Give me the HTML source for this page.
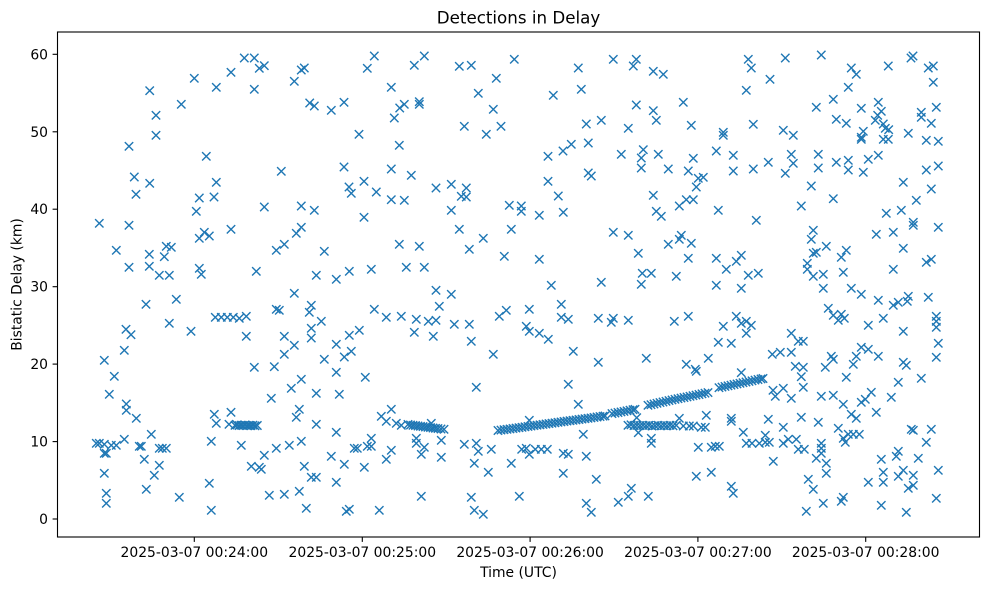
<!DOCTYPE html>
<html>
<head>
<meta charset="utf-8">
<style>
html,body{margin:0;padding:0;background:#fff;}
svg{display:block;}
text{font-family:"DejaVu Sans","Liberation Sans",sans-serif;fill:#000;}
</style>
</head>
<body>
<svg width="989" height="590" viewBox="0 0 989 590" xmlns="http://www.w3.org/2000/svg">
<defs>
<marker id="m" markerWidth="10" markerHeight="10" refX="5" refY="5" markerUnits="userSpaceOnUse" overflow="visible">
<path d="M0.8,0.8L9.2,9.2M9.2,0.8L0.8,9.2" stroke="#1f77b4" stroke-width="1.4" fill="none"/>
</marker>
</defs>
<rect x="0" y="0" width="989" height="590" fill="#fff"/>

<polyline fill="none" stroke="none" marker-start="url(#m)" marker-mid="url(#m)" marker-end="url(#m)" points="
149.7,90.7 156,115.3 156,135.3 129,146.3 181.3,104.3 194.3,78.3 216.3,87.3 231,72.3 244.3,58 254.3,58 259.3,68.3 264.3,65.7 254.3,89.3 294.3,81.3 301.3,70 304.3,68 309.7,103 314.3,106 331.3,110.3 344,102.3 359,134.3 367.3,68.3 206.3,156.3 134.3,177 149.7,183.3 136,194.3 216.3,182.3 199.3,198 214,197 281.3,171.3 344,167 349,187 351.3,193.3 364,181.3
374.3,56 414.3,65.3 424.3,56 459.3,66.3 471.3,65.3 514.3,59.3 496.3,78.3 391.3,87.3 478.3,93.3 399.7,108 404.3,104.3 419.3,101.7 419.3,104.3 394.3,118 493.3,109.3 464.3,126.3 486.3,134.3 501,126.3 399.3,145.3 391.3,169 411.3,175.3 376.3,192 391.3,199.7 404.3,200.3 436,188 451.3,184.3 466.3,188 461.3,196.3 466.3,197 578.3,68 613.3,59.3 636.3,59.3 633.3,66 653.3,71.3 663.3,74.3 553.3,95.3 581.3,89.3 636.3,105 653.3,110.7 656.3,120.3 586.3,124 601.3,120.3 628.3,128.3 548,156.3 563,151 571.3,144.3 588.3,143 621.3,154.3 643.3,149.7 641.3,158 658.3,154.3 641.3,168 668.3,169 588.3,173 591.3,176 548,181.3 558.3,196 653.3,195.3
748.3,59.3 751.3,68 785.3,58 821.3,55 770,79.3 746.3,90.3 851.3,68 856.3,74.3 888.3,66 911,58 913,56 928.3,68 933.3,66 933.3,82.3 848.3,87.3 683.3,102.3 816.3,107.3 833.3,99.3 861.3,108.3 878.3,102.3 881.3,111.3 877.7,115.3 875.3,120.3 921.3,112.3 921.3,117.3 936.3,107.3 691.3,125.3 753.3,124.3 836.3,119.3 846.3,123.3 883.3,124 885.3,128.3 888.7,129.7 931.3,123.3 723.3,132.3 723.3,135.3 783.3,130.3 793.3,135.3 863.3,131.3 861.3,137.3 861.3,139.3 883.3,139.3 888.3,139.3 908.3,133.3 926.3,140.3 938.3,141.3 716.3,151 693.3,158.3 733.3,155.3 791.3,154.3 793.3,163.3 818.3,154.3 768.3,162.3 836.3,162.3 848.3,160.3 848.3,170 868.3,159.3 878.3,155.3 688.3,171 698.3,178.3 703.3,177.3 696.3,187 733.3,171 753.3,169 785.3,173.3 818.3,168 863.3,172.3 926.3,170 938.3,166 811.3,186 903.3,182.3 931.3,189 686.3,199.7 693.3,199.7 833.3,198.7 916.3,200.3
99.3,223.3 129,225.3 196.3,211.3 264.3,207 301.3,206 314.3,210.3 364,217.3 231,229.3 199.3,238.3 204.3,232.3 209.3,236 296.3,233.3 301.3,227.3 116.3,250.3 149.3,254.3 166.3,246.3 171.3,247.3 164.3,256.7 276.3,250.3 284.3,244.3 324.3,251.3 129,267.3 149.3,266.3 159.3,275.3 169.3,275.3 199.3,268.3 201.3,274.3 256.3,271.3 316.3,275.3 336.3,279.3 349.3,271.3 294.3,293.3 146,304.3 176.3,299.3 276.3,309.3 279.3,310.3 311.3,305.3 309.3,312.3 215.3,317.3 221.3,317.3 227.3,317.3 233.3,317.3 239.3,318.3 246.3,316.3 169.3,323.3 126,329.3 131,334.7 191,331.3 321.3,321.3 311.3,328.3 246.3,336.3 284.3,336.3 311.3,338 294.3,345.3 336.3,344.3 349.3,335.3 359.3,330.3 124.3,350.3 104.3,360.3 284.3,354.3 324.3,359.3 344.3,357 351.3,351.3 254.3,367.3 274.3,366.7
451.3,210.3 509.3,205.3 521.3,206 521.3,211.3 539.3,215.3 563.3,212.3 656.3,211.3 661.3,216.3 459.3,229.3 483.3,238.3 511.3,229.3 613.3,232.3 628.3,235.3 668.3,244.3 399.3,244.3 419.3,246.3 469.3,249.3 504.3,256.3 539.3,259.3 638.3,253.3 371.3,269.3 406.3,267.3 424.3,267.3 642.3,273.3 651.3,273.3 641.3,284.3 601.3,282.3 551.3,285.3 436,290.3 451.3,294.3 439.3,306.3 374.3,309.3 386.3,317.3 401.3,316.3 416.3,319.3 428.3,321.3 436,320.3 454.3,324.3 469.3,324.3 414.3,332.3 433.3,336.3 471.3,341.3 499.3,316.3 506.3,310.3 529.3,309.3 561.3,304.3 561.3,317.3 568.3,319.3 598.3,318.3 613.3,318.3 611.3,322.3 628.3,320.3 526.3,326.3 529.3,331.3 539.3,333.3 548.3,339.3 493.3,354.3 573.3,351.3 598.3,362.3 646.3,358.3 674.3,321.3
679.3,206 718.3,210.3 756.3,220.3 801.3,206 886.3,213.3 901.3,210.3 913.3,222.3 913.3,225.3 938.3,227.3 876.3,234.3 893.3,232.3 903.3,248.3 681.3,235.3 679.3,239.3 691.3,243.3 813.3,230.3 811.3,239.3 826.3,246.3 813.3,253.3 816.3,252.3 841.3,257.3 846.3,250.3 688.3,258.3 716.3,258.3 736.3,261.3 741.3,255.3 726.3,269.3 748.3,275.3 758.3,273.3 676.3,276.3 807.3,263.3 807.3,269.3 813.3,276.3 823.3,274.3 843.3,272.3 893.3,269.3 926.3,262.3 931.3,259.3 716.3,285.3 741.3,288.3 823.3,288.3 851.3,288.3 861.3,294.3 878.3,300.3 893.3,305.3 898.3,302.3 908.3,296.3 907.3,301.3 928.3,297.3 828.3,308.3 833.3,315.3 841.3,314.3 838.3,320.3 844.3,318.3 868.3,325.3 883.3,318.3 903.3,331.3 936.3,316.3 936.3,321.3 936.3,327.3 938.3,343.3 936.3,357.3 688.3,316.3 736.3,316.3 741.3,323.3 746.3,321.3 751.3,325.3 723.3,326.3 746.3,333.3 718.3,342.3 731.3,343.3 791.3,333.3 798.3,341.3 803.3,341.3 772.3,354.3 780.3,352.3 791.3,352.3 861.3,347.3 868.3,349.3 878.3,356.3 856.3,356.3 831.3,356.3 833.3,359.3 853.3,364.3 825.3,367.3 708.3,358.3 686.3,364.3 695.3,369.3 795.3,366.3 803.3,367.3 903.3,362.3 906.3,365.3
114.3,376.3 109.3,394.3 126.3,404 126.3,410.3 136.3,418.3 214.3,414.3 216.3,423.3 231,412.3 229,424.3 271.3,398.3 291.3,388.3 301.3,379.3 316.3,393.3 336.3,372.3 339.3,394.3 365.3,377.3 299.3,409.3 296.3,417.3 316.3,424.3 336.3,432.3 99.3,443.3 96.3,443.3 104.3,444.3 111.3,445.3 116.3,445.3 124.3,439.3 104.3,453.3 106.3,453.3 139.3,446.3 141.3,446.3 151.3,434.3 159.3,448.3 162.3,448.3 166.3,448.3 144.3,459.3 159.3,465.3 154.3,475.3 104.3,473.3 146.3,489.3 106.3,493.3 106.3,503.3 179.3,497.3 211.3,441.3 209.3,483.3 211.3,510.3 241.3,445.3 264.3,455.3 276.3,448.3 289.3,445.3 301.3,441.3 251.3,466.3 259.3,467.3 261.3,469.3 304.3,466.3 311.3,477.3 316.3,477.3 331.3,456.3 344.3,464.3 336.3,482.3 269.3,495.3 284.3,494.3 299.3,491.3 306.3,508.3 346.3,511.3 349.3,509.3 354.3,448.3 357.3,448.3 367.3,446.3 364.3,467.3
235,425.3 237,425 239,425.6 241,425.2 243,425.5 245,425 247,425.6 249,425.3 251,425.7 253,425.2 255,425.8 257.3,425.5
476.3,387.3 568.3,384.3 578.3,404.3 381.3,416.3 391.3,409.3 386.3,421.3 396.3,423.3 401.3,425.3 371.3,438.3 371.3,446.3 416.3,438.3 416.3,443.3 424.3,447.3 421.3,454.3 441.3,440.3 441.3,457.3 391.3,450.3 386.3,459.3 464.3,444.3 476.3,443.3 478.3,451.3 491.3,449.3 474.3,463.3 488.3,472.3 511.3,463.3 421.3,496.3 471.3,497.3 474.3,510.3 483.3,514.3 379.3,510.3 519.3,496.3 529.3,420.3 521.7,449.3 526.3,448.3 535.3,449.3 541.3,449.3 547.3,449.3 529.3,454.3 563.3,453.3 568.3,454.3 583.3,434.3 586.3,456.3 563.3,473.3 596.3,479.3 586.3,503.3 591.3,512.3 618.3,502.3 628.3,496.3 631.3,488.3 648.3,496.3 636.7,417.7 638.3,432.7 651.3,438.3 651.3,443.3
408,424.5 410.5,425 413,425.3 415.5,425.6 418,426 420.5,426.3 423,426.6 425.5,427 428,427.3 430.5,427.6 433,428 435.5,428.3 438,428.6 441,429 444,429.3 431.3,423.3
498,430.5 501,430.1 504,429.7 507,429.3 510,428.9 513,428.5 516,428.1 519,427.7 522,427.3 525,426.8 528,426.4 531,426 534,425.6 537,425.2 540,424.8 543,424.4 546,424 549,423.6 552,423.2 555,422.8 558,422.3 561,421.9 564,421.5 567,421.1 570,420.7 573,420.3 576,419.9 579,419.5 582,419.1 585,418.7 588,418.3 591,417.9 594,417.4 597,417 600,416.6 603,416.2 605,415.9
612,413.6 615,413.1 618,412.5 621,411.9 624,411.4 627,410.8 630,410.2 633,409.7 635,409.3
648,405.3 651,404.7 654,404 657,403.3 660,402.6 663,402 666,401.3 669,400.6 672,399.9 675,399.3 678,398.7 681,398.1 684,397.5 687,396.9 690,396.3 693,395.7 696,395.1 699,394.5 702,393.8 705,393.2 708,392.6
719,387.7 722,387.1 725,386.4 728,385.8 731,385.2 734,384.5 737,383.9 740,383.3 743,382.7 746,382 749,381.4 752,380.8 755,380.1 758,379.5 761,378.9 763,378.5
628,425.3 631,424.8 634,425.5 637,425.3 640,425.6 643,425.3 646,425.7 649,425.3 652,426 655,425.7 658,425.3 661,425.8 664,425.5 667,425.8 670,425.3 673,425.8 676.3,425.3 683.3,426 689.3,426 693.3,426 701.3,427.3 705.3,427.3
741.3,372.7 696.3,371.3 801.3,376.7 803.3,387.3 846.3,377.3 773,390.3 775.3,396.3 783.3,388.3 791.3,398.3 821.3,396.3 833.3,395.3 843.3,404.3 851.3,414.3 856.3,418.3 861.3,402.3 865.3,399.3 871.3,392.3 876.3,412.3 891.3,397.3 898.3,382.3 921.3,378.3
679.3,418.3 706.3,415.3 731.3,418.3 731.3,421.3 698.3,447.3 711.3,447.3 715.3,446.3 719.3,446.3 696.3,476.3 711.3,472.3 731.3,486.3 733.3,493.3 743.3,432.3 746.3,443.3 752,443.3 759.3,443.3 765.3,435.3 765.3,442.3 769.3,442.3 768.3,419.3 773.3,461.3 783.3,427.3 783.3,443.3 788.3,439.3 796.3,439.3 798.3,449.3 804.3,449.3 801.3,417.3 818.3,422.3 821.3,443.3 821.3,448.3 821.3,453.3 816.3,458.3 826.3,463.3 826.3,473.3 808.3,479.3 813.3,489.3 806.3,511.3 823.3,503.3 841.3,501.3 843.3,497.3 838.3,428.3 843.3,438.3 845.3,442.3 848.3,434.3 853.3,434.3 859.3,434.3 868.3,482.3 881.3,459.3 883.3,472.3 883.3,482.3 881.3,505.3 896.3,456.3 898.3,451.3 898.3,476.3 903.3,470.3 908.3,488.3 913.3,485.3 913.3,475.3 918.3,458.3 906.3,512.3 911.3,429.3 913.3,430.3 931.3,429.3 926.3,442.3 938.3,470.3 936.3,498.3
"/>

<!-- axes frame -->
<rect x="57.5" y="32" width="922" height="505" fill="none" stroke="#000" stroke-width="1.1"/>

<!-- y ticks -->
<g stroke="#000" stroke-width="1.1">
<line x1="52.6" y1="519" x2="57.5" y2="519"/>
<line x1="52.6" y1="441.6" x2="57.5" y2="441.6"/>
<line x1="52.6" y1="364.1" x2="57.5" y2="364.1"/>
<line x1="52.6" y1="286.7" x2="57.5" y2="286.7"/>
<line x1="52.6" y1="209.2" x2="57.5" y2="209.2"/>
<line x1="52.6" y1="131.8" x2="57.5" y2="131.8"/>
<line x1="52.6" y1="54.3" x2="57.5" y2="54.3"/>
</g>
<g font-size="13.9" text-anchor="end">
<text x="48" y="524">0</text>
<text x="48" y="446.6">10</text>
<text x="48" y="369.1">20</text>
<text x="48" y="291.7">30</text>
<text x="48" y="214.2">40</text>
<text x="48" y="136.8">50</text>
<text x="48" y="59.3">60</text>
</g>

<!-- x ticks -->
<g stroke="#000" stroke-width="1.1">
<line x1="194.3" y1="537" x2="194.3" y2="541.9"/>
<line x1="362.3" y1="537" x2="362.3" y2="541.9"/>
<line x1="530.1" y1="537" x2="530.1" y2="541.9"/>
<line x1="697.9" y1="537" x2="697.9" y2="541.9"/>
<line x1="865.7" y1="537" x2="865.7" y2="541.9"/>
</g>
<g font-size="13.9" text-anchor="middle">
<text x="194.3" y="557">2025-03-07 00:24:00</text>
<text x="362.3" y="557">2025-03-07 00:25:00</text>
<text x="530.1" y="557">2025-03-07 00:26:00</text>
<text x="697.9" y="557">2025-03-07 00:27:00</text>
<text x="865.7" y="557">2025-03-07 00:28:00</text>
</g>

<!-- labels -->
<text x="518.5" y="577" font-size="13.9" text-anchor="middle">Time (UTC)</text>
<text transform="translate(21.5,284.5) rotate(-90)" font-size="13.9" text-anchor="middle">Bistatic Delay (km)</text>
<text x="518.5" y="23.7" font-size="16.7" text-anchor="middle">Detections in Delay</text>
</svg>
</body>
</html>
